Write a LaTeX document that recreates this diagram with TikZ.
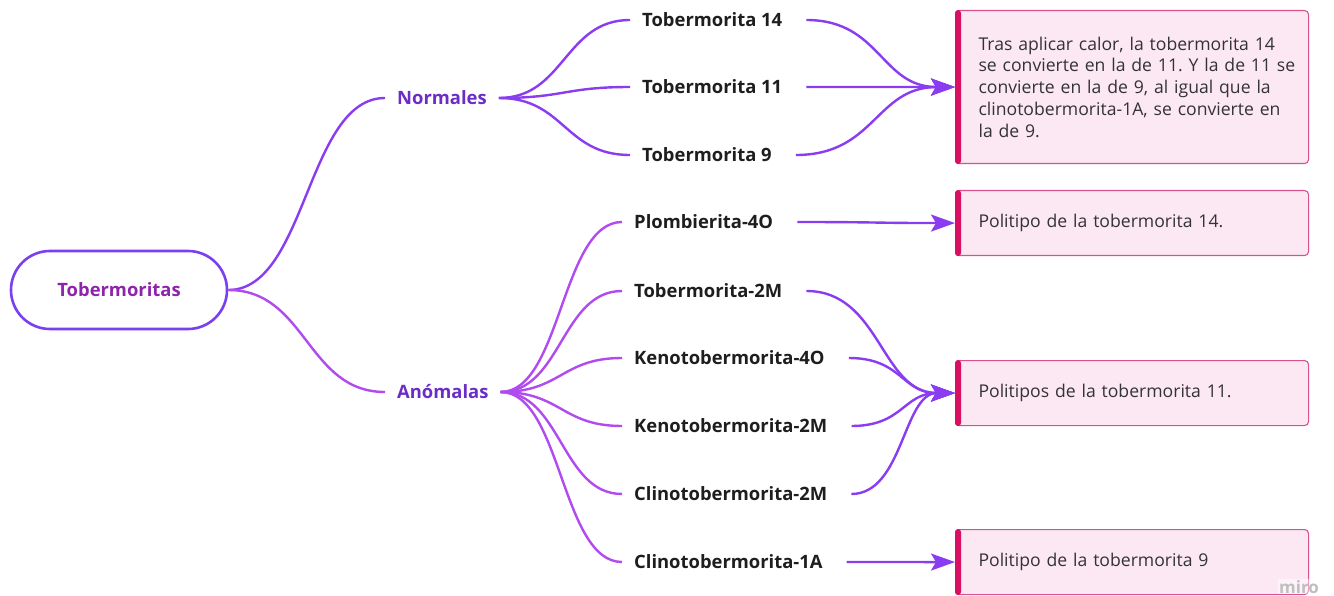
\documentclass[tikz,border=0pt]{standalone}
\usepackage{fontspec}
\setmainfont{Open Sans}
\usetikzlibrary{arrows.meta,calc}
\definecolor{violetE}{HTML}{8A3CF0}
\definecolor{magE}{HTML}{B24BEF}
\definecolor{rootB}{HTML}{7B3FF2}
\definecolor{rootT}{HTML}{8E24AA}
\definecolor{catT}{HTML}{6C2DC7}
\definecolor{boxF}{HTML}{FCE8F3}
\definecolor{boxB}{HTML}{D9508E}
\definecolor{barC}{HTML}{D80F62}
\definecolor{lblT}{HTML}{1E1E1E}
\definecolor{boxT}{HTML}{333333}
\tikzset{
  curvy/.style={to path={let \p1=(\tikztostart), \p2=(\tikztotarget) in
     .. controls ({(\x1+\x2)/2},\y1) and ({(\x1+\x2)/2},\y2) .. (\tikztotarget) \tikztonodes}},
  rootnode/.style={draw=rootB, line width=2.6pt, rounded corners=39pt,
     minimum width=216pt, minimum height=78pt, text=rootT,
     font=\bfseries\fontsize{18.4}{21}\selectfont},
  catnode/.style={anchor=west, inner xsep=12pt, inner ysep=2pt, text=catT,
     font=\bfseries\fontsize{18.4}{21}\selectfont},
  leafnode/.style={anchor=west, inner xsep=12pt, inner ysep=2pt, text=lblT,
     font=\bfseries\fontsize{18.4}{21}\selectfont},
  infobox/.style={anchor=north west, fill=boxF, draw=boxB, line width=1.1pt,
     rounded corners=4pt, minimum width=353pt, text width=307pt, inner xsep=23pt,
     align=left, text=boxT, font=\fontsize{17.6}{21.8}\selectfont\frenchspacing},
  edgeV/.style={draw=violetE, line width=2.4pt, curvy},
  edgeM/.style={draw=magE, line width=2.4pt, curvy},
  arr/.style={-{Stealth[length=24pt,width=17pt,inset=5pt]}},
  bar/.style={fill=barC, rounded corners=3pt}
}
\begin{document}
\begin{tikzpicture}[x=1pt,y=-1pt]
\useasboundingbox (0,0) rectangle (1334,596);
\fill[white] (0,0) rectangle (1334,596);

% root and categories
\node[rootnode] (root) at (119,290) {Tobermoritas};
\node[catnode] (norm) at (385,98) {Normales};
\node[catnode] (anom) at (385,392) {Anómalas};

% leaves
\node[leafnode] (t14) at (630,20) {Tobermorita 14};
\node[leafnode] (t11) at (630,87) {Tobermorita 11};
\node[leafnode] (t9)  at (630,155) {Tobermorita 9};
\node[leafnode] (p4o) at (622,222) {Plombierita-4O};
\node[leafnode] (t2m) at (622,291) {Tobermorita-2M};
\node[leafnode] (k4o) at (622,358) {Kenotobermorita-4O};
\node[leafnode] (k2m) at (622,426) {Kenotobermorita-2M};
\node[leafnode] (c2m) at (622,494) {Clinotobermorita-2M};
\node[leafnode] (c1a) at (622,562) {Clinotobermorita-1A};

% info boxes
\node[infobox, minimum height=153pt] (b1) at (955,10)
  {\mbox{Tras aplicar calor, la tobermorita 14}\\\mbox{se convierte en la de 11. Y la de 11 se}\\\mbox{convierte en la de 9, al igual que la}\\\mbox{clinotobermorita-1A, se convierte en}\\\mbox{la de 9.}};
\node[infobox, minimum height=65pt] (b2) at (955,190) {Politipo de la tobermorita 14.};
\node[infobox, minimum height=65pt] (b3) at (955,360) {Politipos de la tobermorita 11.};
\node[infobox, minimum height=65pt] (b4) at (955,529) {Politipo de la tobermorita 9};
\foreach \bx in {b1,b2,b3,b4}{
  \fill[bar] (\bx.north west) rectangle ([xshift=6pt]\bx.south west);
}

% root edges
\draw[edgeV] (root.east) to (norm.west);
\draw[edgeM] (root.east) to (anom.west);

% Normales edges
\foreach \nd in {t14,t11,t9}{ \draw[edgeV] (norm.east) to (\nd.west); }
% Anomalas edges
\foreach \nd in {p4o,t2m,k4o,k2m,c2m,c1a}{ \draw[edgeM] (anom.east) to (\nd.west); }

% right edges with arrows
\foreach \nd in {t14,t11,t9}{ \draw[edgeV,arr] ([xshift=12pt]\nd.east) to (b1.west); }
\draw[edgeV,arr] ([xshift=12pt]p4o.east) to (b2.west);
\foreach \nd in {t2m,k4o,k2m,c2m}{ \draw[edgeV,arr] ([xshift=12pt]\nd.east) to (b3.west); }
\draw[edgeV,arr] ([xshift=12pt]c1a.east) to (b4.west);

% watermark
\node[text=black!25, fill=white, fill opacity=0.45, text opacity=1, inner sep=1pt,
  font=\bfseries\fontsize{17}{18}\selectfont, anchor=base west] (wm) at (1278,593) {miro};
\end{tikzpicture}
\end{document}
